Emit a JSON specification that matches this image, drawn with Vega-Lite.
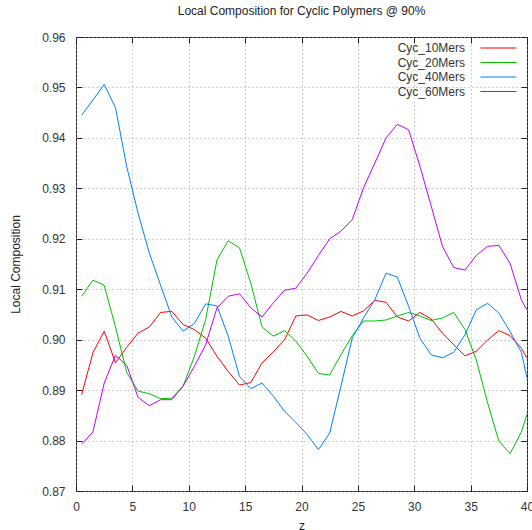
{
  "$schema": "https://vega.github.io/schema/vega-lite/v6.json",
  "width": 451,
  "height": 454,
  "autosize": {"type": "none"},
  "padding": {"left": 76, "top": 37, "right": 5, "bottom": 39},
  "background": "white",
  "title": {"text": "Local Composition for Cyclic Polymers @ 90%", "font": "Liberation Sans", "fontSize": 12, "fontWeight": "normal", "color": "#222", "anchor": "middle", "offset": 13},
  "config": {
    "view": {"stroke": "#222", "strokeWidth": 1},
    "axis": {"labelFont": "Liberation Sans", "labelFontSize": 12, "labelColor": "#333", "titleFont": "Liberation Sans", "titleFontSize": 12, "titleFontWeight": "normal", "titleColor": "#222", "tickColor": "#222", "domain": false, "tickSize": -6, "gridColor": "#a0a0a0", "gridDash": [1, 3], "gridOpacity": 1, "gridWidth": 1}
  },
  "data": {"values": [
    {"z": 0.5, "Cyc_10Mers": 0.8891, "Cyc_20Mers": 0.9086, "Cyc_40Mers": 0.9445, "Cyc_60Mers": 0.8793},
    {"z": 1.5, "Cyc_10Mers": 0.8974, "Cyc_20Mers": 0.9118, "Cyc_40Mers": 0.9475, "Cyc_60Mers": 0.8817},
    {"z": 2.5, "Cyc_10Mers": 0.9017, "Cyc_20Mers": 0.9108, "Cyc_40Mers": 0.9506, "Cyc_60Mers": 0.8914},
    {"z": 3.5, "Cyc_10Mers": 0.8954, "Cyc_20Mers": 0.9025, "Cyc_40Mers": 0.9460, "Cyc_60Mers": 0.8969},
    {"z": 4.5, "Cyc_10Mers": 0.8985, "Cyc_20Mers": 0.8935, "Cyc_40Mers": 0.9343, "Cyc_60Mers": 0.8949},
    {"z": 5.5, "Cyc_10Mers": 0.9013, "Cyc_20Mers": 0.8898, "Cyc_40Mers": 0.9251, "Cyc_60Mers": 0.8886},
    {"z": 6.5, "Cyc_10Mers": 0.9025, "Cyc_20Mers": 0.8893, "Cyc_40Mers": 0.9172, "Cyc_60Mers": 0.8869},
    {"z": 7.5, "Cyc_10Mers": 0.9054, "Cyc_20Mers": 0.8883, "Cyc_40Mers": 0.9108, "Cyc_60Mers": 0.8881},
    {"z": 8.5, "Cyc_10Mers": 0.9056, "Cyc_20Mers": 0.8884, "Cyc_40Mers": 0.9045, "Cyc_60Mers": 0.8881},
    {"z": 9.5, "Cyc_10Mers": 0.9030, "Cyc_20Mers": 0.8908, "Cyc_40Mers": 0.9017, "Cyc_60Mers": 0.8908},
    {"z": 10.5, "Cyc_10Mers": 0.9020, "Cyc_20Mers": 0.8967, "Cyc_40Mers": 0.9032, "Cyc_60Mers": 0.8947},
    {"z": 11.5, "Cyc_10Mers": 0.9003, "Cyc_20Mers": 0.9040, "Cyc_40Mers": 0.9071, "Cyc_60Mers": 0.8990},
    {"z": 12.5, "Cyc_10Mers": 0.8967, "Cyc_20Mers": 0.9158, "Cyc_40Mers": 0.9067, "Cyc_60Mers": 0.9063},
    {"z": 13.5, "Cyc_10Mers": 0.8937, "Cyc_20Mers": 0.9196, "Cyc_40Mers": 0.9007, "Cyc_60Mers": 0.9086},
    {"z": 14.5, "Cyc_10Mers": 0.8910, "Cyc_20Mers": 0.9182, "Cyc_40Mers": 0.8927, "Cyc_60Mers": 0.9091},
    {"z": 15.5, "Cyc_10Mers": 0.8915, "Cyc_20Mers": 0.9112, "Cyc_40Mers": 0.8903, "Cyc_60Mers": 0.9063},
    {"z": 16.5, "Cyc_10Mers": 0.8954, "Cyc_20Mers": 0.9025, "Cyc_40Mers": 0.8914, "Cyc_60Mers": 0.9045},
    {"z": 17.5, "Cyc_10Mers": 0.8976, "Cyc_20Mers": 0.9007, "Cyc_40Mers": 0.8888, "Cyc_60Mers": 0.9073},
    {"z": 18.5, "Cyc_10Mers": 0.9000, "Cyc_20Mers": 0.9018, "Cyc_40Mers": 0.8858, "Cyc_60Mers": 0.9098},
    {"z": 19.5, "Cyc_10Mers": 0.9047, "Cyc_20Mers": 0.8997, "Cyc_40Mers": 0.8836, "Cyc_60Mers": 0.9102},
    {"z": 20.5, "Cyc_10Mers": 0.9049, "Cyc_20Mers": 0.8967, "Cyc_40Mers": 0.8812, "Cyc_60Mers": 0.9132},
    {"z": 21.5, "Cyc_10Mers": 0.9038, "Cyc_20Mers": 0.8933, "Cyc_40Mers": 0.8782, "Cyc_60Mers": 0.9167},
    {"z": 22.5, "Cyc_10Mers": 0.9045, "Cyc_20Mers": 0.8930, "Cyc_40Mers": 0.8815, "Cyc_60Mers": 0.9200},
    {"z": 23.5, "Cyc_10Mers": 0.9056, "Cyc_20Mers": 0.8970, "Cyc_40Mers": 0.8908, "Cyc_60Mers": 0.9215},
    {"z": 24.5, "Cyc_10Mers": 0.9047, "Cyc_20Mers": 0.9008, "Cyc_40Mers": 0.9003, "Cyc_60Mers": 0.9238},
    {"z": 25.5, "Cyc_10Mers": 0.9057, "Cyc_20Mers": 0.9037, "Cyc_40Mers": 0.9043, "Cyc_60Mers": 0.9301},
    {"z": 26.5, "Cyc_10Mers": 0.9078, "Cyc_20Mers": 0.9037, "Cyc_40Mers": 0.9079, "Cyc_60Mers": 0.9350},
    {"z": 27.5, "Cyc_10Mers": 0.9074, "Cyc_20Mers": 0.9039, "Cyc_40Mers": 0.9132, "Cyc_60Mers": 0.9400},
    {"z": 28.5, "Cyc_10Mers": 0.9045, "Cyc_20Mers": 0.9047, "Cyc_40Mers": 0.9124, "Cyc_60Mers": 0.9427},
    {"z": 29.5, "Cyc_10Mers": 0.9037, "Cyc_20Mers": 0.9054, "Cyc_40Mers": 0.9066, "Cyc_60Mers": 0.9416},
    {"z": 30.5, "Cyc_10Mers": 0.9054, "Cyc_20Mers": 0.9047, "Cyc_40Mers": 0.9003, "Cyc_60Mers": 0.9344},
    {"z": 31.5, "Cyc_10Mers": 0.9041, "Cyc_20Mers": 0.9038, "Cyc_40Mers": 0.8970, "Cyc_60Mers": 0.9265},
    {"z": 32.5, "Cyc_10Mers": 0.9013, "Cyc_20Mers": 0.9043, "Cyc_40Mers": 0.8964, "Cyc_60Mers": 0.9185},
    {"z": 33.5, "Cyc_10Mers": 0.8990, "Cyc_20Mers": 0.9054, "Cyc_40Mers": 0.8975, "Cyc_60Mers": 0.9143},
    {"z": 34.5, "Cyc_10Mers": 0.8968, "Cyc_20Mers": 0.9020, "Cyc_40Mers": 0.9010, "Cyc_60Mers": 0.9138},
    {"z": 35.5, "Cyc_10Mers": 0.8977, "Cyc_20Mers": 0.8960, "Cyc_40Mers": 0.9059, "Cyc_60Mers": 0.9167},
    {"z": 36.5, "Cyc_10Mers": 0.8999, "Cyc_20Mers": 0.8875, "Cyc_40Mers": 0.9072, "Cyc_60Mers": 0.9185},
    {"z": 37.5, "Cyc_10Mers": 0.9018, "Cyc_20Mers": 0.8799, "Cyc_40Mers": 0.9053, "Cyc_60Mers": 0.9187},
    {"z": 38.5, "Cyc_10Mers": 0.9008, "Cyc_20Mers": 0.8774, "Cyc_40Mers": 0.9016, "Cyc_60Mers": 0.9151},
    {"z": 39.5, "Cyc_10Mers": 0.8983, "Cyc_20Mers": 0.8817, "Cyc_40Mers": 0.8975, "Cyc_60Mers": 0.9079},
    {"z": 40, "Cyc_10Mers": 0.8963, "Cyc_20Mers": 0.8852, "Cyc_40Mers": 0.8924, "Cyc_60Mers": 0.9059}
  ]},
  "transform": [{"fold": ["Cyc_10Mers", "Cyc_20Mers", "Cyc_40Mers", "Cyc_60Mers"], "as": ["series", "value"]}],
  "layer": [
    {
      "mark": {"type": "line", "strokeWidth": 1, "clip": true},
      "encoding": {
        "x": {"field": "z", "type": "quantitative", "scale": {"domain": [0, 40], "nice": false, "zero": false},
              "axis": {"orient": "bottom", "values": [0, 5, 10, 15, 20, 25, 30, 35, 40], "title": "z", "labelPadding": 16, "titlePadding": 8, "grid": true, "labelFlush": false}},
        "y": {"field": "value", "type": "quantitative", "scale": {"domain": [0.87, 0.96], "nice": false, "zero": false},
              "axis": {"orient": "left", "values": [0.87, 0.88, 0.89, 0.9, 0.91, 0.92, 0.93, 0.94, 0.95, 0.96], "format": ".2f", "title": "Local Composition", "labelPadding": 17, "titlePadding": 19, "grid": true, "labelFlush": false}},
        "color": {"field": "series", "type": "nominal",
                  "scale": {"domain": ["Cyc_10Mers", "Cyc_20Mers", "Cyc_40Mers", "Cyc_60Mers"], "range": ["#ff0000", "#00c000", "#0080ff", "#c000ff"]},
                  "legend": {"orient": "none", "legendX": 416.5, "legendY": 5, "title": null, "symbolType": "M-4,0H4", "symbolSize": 81, "symbolStrokeWidth": 1, "symbolFillColor": "transparent", "symbolOpacity": 1, "labelAlign": "right", "labelOffset": -39.5, "labelFont": "Liberation Sans", "labelFontSize": 12, "labelColor": "#333", "rowPadding": 2.5}}
      }
    },
    {
      "mark": {"type": "point", "opacity": 0},
      "encoding": {
        "x": {"field": "z", "type": "quantitative", "axis": {"orient": "top", "values": [0, 5, 10, 15, 20, 25, 30, 35, 40], "labels": false, "title": null, "grid": false}},
        "y": {"field": "value", "type": "quantitative", "axis": {"orient": "right", "values": [0.87, 0.88, 0.89, 0.9, 0.91, 0.92, 0.93, 0.94, 0.95, 0.96], "labels": false, "title": null, "grid": false}}
      }
    }
  ],
  "resolve": {"axis": {"x": "independent", "y": "independent"}}
}
